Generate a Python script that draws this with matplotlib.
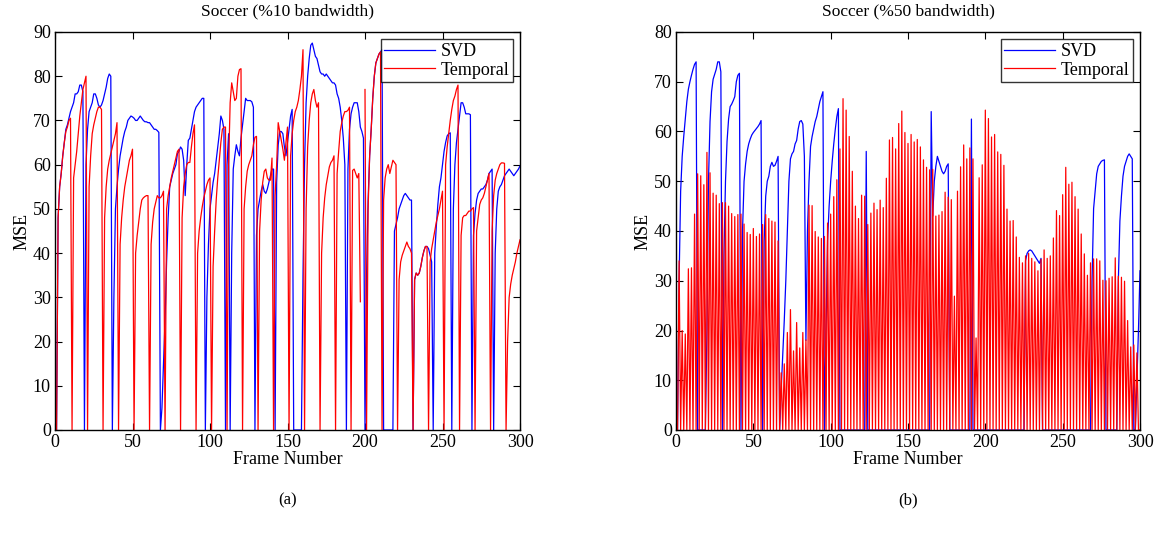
import numpy as np
import matplotlib.pyplot as plt

plt.rcParams['font.family'] = ['Liberation Serif', 'DejaVu Serif']
plt.rcParams['font.size'] = 13

frames = np.arange(1, 301)

# ---- (a) 10% bandwidth ----
svd_a = [
    0, 48, 55, 58, 62, 65, 68, 69, 70.5, 72,
    73, 74, 76, 76, 76.5, 78, 78, 76.5, 0, 60,
    68, 72, 73, 74, 76, 76, 75, 73.5, 73, 73.5,
    74.5, 76, 77.5, 79.5, 80.5, 80, 0, 30, 50, 55,
    59, 62, 64, 66, 67.5, 68.5, 70, 70.5, 71, 70.8,
    70.5, 70, 70, 70.5, 71, 70.5, 70, 69.7, 69.7, 69.5,
    69.5, 69, 68.5, 68, 68, 67.7, 67.3, 0, 5, 15,
    25, 38, 48, 55, 56.5, 58, 59, 60, 62.5, 63,
    64, 63.5, 61, 53, 60, 65.5, 66, 68, 70, 72,
    73, 73.5, 74, 74.5, 75, 75, 0, 30, 42, 50,
    53, 56, 58, 61, 64, 67, 71, 70, 68, 0,
    60, 67, 0, 40, 59, 62, 64.5, 63, 62, 66,
    69, 72, 75, 74.5, 74.5, 74.5, 74.2, 73, 0, 44,
    50, 52, 54, 55.5, 54, 53.5, 54.5, 56, 57.5, 59,
    59, 0, 56, 64.5, 67.5, 67.5, 67, 64, 62, 65,
    68, 71, 72.5, 0, 0, 0, 0, 0, 0, 35,
    60, 74, 80, 84, 87, 87.5, 86, 84.5, 84, 82.5,
    81, 80.5, 80.5, 80, 80.5, 80, 79.5, 79, 78.5, 78.5,
    78, 76, 75, 73, 70, 66, 60, 0, 59, 68,
    71.5, 73, 74, 74, 74, 72, 68.5, 67.5, 66, 0,
    35, 52, 62, 68, 75, 80, 83, 84, 85, 85.5,
    86, 0, 0, 0, 0, 0, 0, 0, 45, 46.5,
    48, 50, 51, 52, 53, 53.5, 53, 52.5, 52, 52,
    0, 34, 35.5, 35, 35.5, 37, 39, 40.5, 41.5, 41.5,
    41, 39.5, 38, 0, 40, 46, 51, 55, 57, 60,
    63, 65, 66.5, 67, 67.2, 0, 50, 60, 65, 68,
    71, 74, 74, 73, 71.5, 71.5, 71.5, 71.3, 0, 44,
    49, 52, 53.5, 54, 54.5, 54.5, 55, 55.5, 56.5, 58,
    58.5, 59, 0, 40, 50, 54, 55, 55.5, 56.5, 57.5,
    58, 58.5, 59, 58.5, 58, 57.5, 58, 58.5, 59, 59.7,
]

# temporal: key frame (MSE 0) at frames 1, 11, 21, ...; values of the 9 frames after it
temporal_a_cycles = [
    [48, 55, 58, 62, 65, 67.5, 68.5, 70, 70.5],
    [57, 60, 63, 67, 71, 74, 77, 78.5, 80],
    [55, 62, 67, 69, 70.5, 72, 73, 73, 72.5],
    [48, 55, 59, 61, 62.5, 64, 65.5, 67, 69.5],
    [42, 48, 52, 55, 57, 59, 61, 62, 63.5],
    [40, 44, 47, 50, 52, 52.5, 52.8, 53, 53],
    [42, 47, 50, 51.5, 53, 52.5, 52.5, 53, 54],
    [50, 53, 55, 57, 58.5, 60, 61.5, 63, 63.5],
    [48, 55, 58, 60, 60.5, 60.5, 64, 67, 69],
    [40, 45, 48, 50.5, 52.5, 54, 55.5, 56.5, 57],
    [37, 45, 52, 57, 61, 65, 68, 68.5, 68.5],
    [60, 74, 78.5, 76.5, 74.5, 75, 80, 81.5, 81.7],
    [50, 55, 58.5, 60, 61, 62, 64.5, 66.2, 66.4],
    [45, 52, 56, 58.5, 59, 57, 56.5, 56.5, 61.5],
    [53, 60, 69.5, 67.5, 65.5, 63.5, 61, 65, 68.5],
    [62, 67, 70, 72, 73, 74.5, 77, 80, 86],
    [50, 64, 70, 74, 76, 77, 74.5, 73, 74],
    [40, 48, 52.5, 55.5, 57.5, 59.5, 60.5, 61, 62],
    [58, 63, 67.5, 69.5, 71, 72, 72, 72.3, 73],
    [58.7, 59, 58, 57, 58, 29, np.nan, np.nan, 77],
    [50, 62, 68, 75, 80, 83, 84, 85, 85.5],
    [52, 57, 59, 60, 58, 59.5, 61, 60.5, 60],
    [34, 38, 39.5, 40.5, 41.5, 42.5, 41.5, 41, 40],
    [34, 35.5, 35, 35.5, 37, 39, 40.5, 41.5, 41.5],
    [38, 41, 43, 45, 47, 48.5, 50, 52, 54],
    [60, 64, 67, 70, 72.5, 74.5, 75.5, 77, 78],
    [44, 48, 48.5, 48.5, 49, 49.5, 49.5, 50, 50.3],
    [45, 48, 51, 52, 52.5, 53.5, 55, 56.5, 58],
    [45, 53, 56.5, 58, 59, 60, 60.4, 60.4, 60.3],
    [20, 30, 33, 35, 36.5, 38, 40, 41.5, 43],
]

# ---- (b) 50% bandwidth ----
svd_b = [
    0, 30, 48, 55, 59, 62.5, 66, 68.5, 70, 71.3,
    72.5, 73.5, 74, 0, 0, 0, 0, 0, 0, 20,
    50, 62, 68, 70.5, 71.5, 72.5, 74, 74, 72, 0,
    35, 50, 58, 62.5, 65, 65.5, 66.2, 67, 70, 71.3,
    71.7, 0, 40, 50, 53.5, 56, 57.5, 58.5, 59.3, 59.8,
    60.2, 60.6, 61, 61.5, 62.2, 0, 38, 47, 50, 51,
    53, 53.8, 53, 53.2, 54, 55, 0, 8, 15, 22,
    30, 40, 50, 54.5, 55.5, 56, 57.5, 58.2, 60.5, 62,
    62.2, 61.5, 55, 18, 40, 50, 57, 59, 60.5, 62,
    63, 64.5, 66, 67, 68, 0, 20, 38, 45, 50,
    54, 57.5, 60.5, 63, 64.6, 0, 0, 0, 0, 0,
    0, 0, 0, 0, 0, 0, 0, 0, 0, 0,
    0, 0, 56, 0, 0, 0, 0, 0, 0, 0,
    0, 0, 0, 0, 0, 0, 0, 0, 0, 0,
    0, 0, 0, 0, 0, 0, 0, 0, 0, 0,
    0, 0, 0, 0, 0, 0, 0, 0, 0, 0,
    0, 0, 0, 0, 64, 43, 50, 53, 55, 54,
    53, 52, 51.5, 52, 53, 53.5, 0, 0, 0, 0,
    0, 0, 0, 0, 0, 0, 0, 0, 0, 0,
    62.5, 0, 0, 0, 0, 0, 0, 0, 0, 0,
    0, 0, 0, 0, 0, 0, 0, 0, 0, 0,
    0, 0, 0, 0, 0, 0, 0, 0, 0, 0,
    0, 0, 0, 0, 0, 34, 35.5, 36, 36.2, 36,
    35.5, 35, 34.5, 34, 33.5, 34.5, 0, 0, 0, 0,
    0, 0, 0, 0, 0, 0, 0, 0, 0, 0,
    0, 0, 0, 0, 0, 0, 0, 0, 0, 0,
    0, 0, 0, 0, 0, 0, 0, 0, 30, 44.5,
    48, 51.5, 53, 53.5, 54, 54.2, 54.3, 0, 0, 0,
    0, 0, 0, 0, 0, 30, 42, 47, 51, 53,
    54, 55, 55.5, 55, 54.5, 0, 0, 10, 20, 32,
]

# temporal: every odd frame is 0, these are the even frames 2, 4, ..., 298
temporal_b_peaks = [
    34, 20, 19.3, 32.4, 32.6, 43.4, 51.5, 51.1, 49.3, 55.8,
    51.7, 47.6, 47.2, 45.5, 45.7, 45.7, 45, 43.5, 42.9, 43.3,
    43.4, 41.4, 39.7, 39.3, 40.5, 38.9, 39.4, 41.3, 43.3, 42.5,
    42, 41.8, 38, 11.5, 13.3, 19.6, 24.2, 15.9, 21.6, 16.5,
    19.6, 18.1, 45.2, 45.1, 39.9, 38.8, 38.5, 38.9, 41.6, 43.4,
    46.9, 50.3, 56.5, 66.6, 64.3, 59, 52, 45, 42.5, 47.2,
    47, 41.3, 43.6, 45.6, 44.3, 46.2, 44.7, 50.6, 58.3, 58.8,
    56.5, 61.6, 64.1, 59.8, 57.6, 59.4, 57.9, 58.4, 56.9, 54.3,
    52.8, 52.3, 52.4, 43, 43.2, 43.9, 47.8, 46.8, 46.3, 26.9,
    48, 52.9, 57.3, 54.5, 56.7, 54.5, 18.5, 50.7, 53.3, 64.3,
    62.6, 58.9, 59.4, 55.9, 55.4, 53.2, 44.4, 42, 42.1, 38.8,
    34.7, 33.6, 35, 35.5, 34.5, 33.8, 32, 34.3, 36.2, 34.5,
    35, 38.6, 44.1, 43.1, 47.3, 52.8, 49.4, 49.8, 46.9, 44.4,
    39.4, 35.4, 31.1, 33.6, 34.4, 34.4, 34, 30.1, 30, 30.5,
    30.8, 34.6, 30.9, 30.7, 29.9, 22, 16.7, 17.1, 15.5,
]

temporal_a = []
for cyc in temporal_a_cycles:
    temporal_a += [0] + cyc

temporal_b = np.zeros(300)
temporal_b[1:298:2] = temporal_b_peaks

fig = plt.figure(figsize=(11.63, 5.46), dpi=100)
W, H = 1163, 546
ax1 = fig.add_axes([55 / W, 1 - 430 / H, 465 / W, 398 / H])
ax2 = fig.add_axes([676 / W, 1 - 430 / H, 464 / W, 398 / H])

panels = [
    (ax1, svd_a, temporal_a, 90, 'Soccer (%10 bandwidth)', '(a)'),
    (ax2, svd_b, temporal_b, 80, 'Soccer (%50 bandwidth)', '(b)'),
]

for ax, svd, temp, ymax, title, tag in panels:
    ax.plot(frames, svd, color='#0000ff', lw=0.9, label='SVD', clip_on=False)
    ax.plot(frames, temp, color='#ff0000', lw=0.9, label='Temporal', clip_on=False)
    ax.set_xlim(0, 300)
    ax.set_ylim(0, ymax)
    ax.set_xticks(np.arange(0, 301, 50))
    ax.set_yticks(np.arange(0, ymax + 1, 10))
    ax.tick_params(direction='in', top=True, right=True, length=5, labelsize=13, pad=3)
    for s in ax.spines.values():
        s.set_linewidth(1.0)
    ax.set_xlabel('Frame Number', fontsize=13, labelpad=0)
    ax.set_ylabel('MSE', fontsize=13, labelpad=2)
    ax.set_title(title, fontsize=12.5, pad=12)
    leg = ax.legend(loc='upper right', fontsize=13, frameon=True, fancybox=False,
                    borderaxespad=0.4, handlelength=2.8, borderpad=0.2,
                    labelspacing=0.1, handletextpad=0.3)
    leg.get_frame().set_edgecolor('black')
    leg.get_frame().set_linewidth(1.0)
    ax.text(0.5, -0.176, tag, transform=ax.transAxes, ha='center', va='center', fontsize=12)

fig.savefig('out.png', dpi=100)
